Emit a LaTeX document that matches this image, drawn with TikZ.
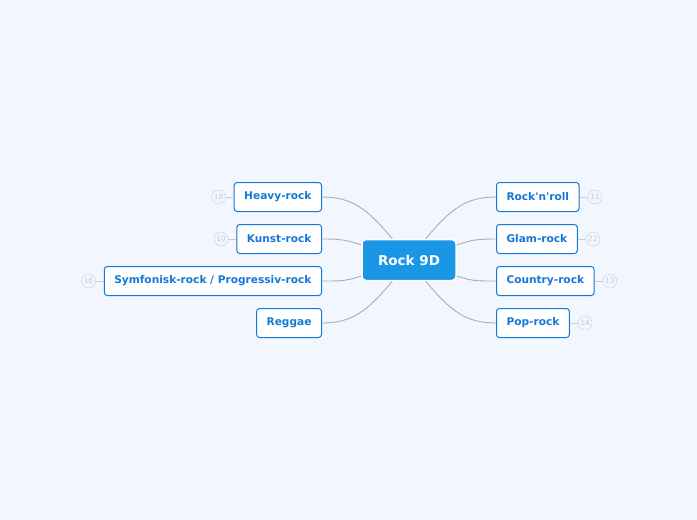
\documentclass[tikz,border=0pt]{standalone}
\usepackage{fontspec}
\setmainfont{DejaVu Sans}
\usetikzlibrary{calc,positioning}
\definecolor{bgcol}{HTML}{F2F6FE}
\definecolor{topicblue}{HTML}{1A96E6}
\definecolor{edgeblue}{HTML}{1478D8}
\definecolor{linegray}{HTML}{A8ADB8}
\definecolor{countgray}{HTML}{C8CCD4}
\tikzset{
  topic/.style={draw=edgeblue,fill=white,rounded corners=3pt,line width=1pt,
    minimum height=29pt,inner xsep=10pt,text=edgeblue,
    font=\fontsize{10.6}{12}\selectfont\bfseries},
  counter/.style={circle,draw=countgray,fill=bgcol,minimum size=14pt,inner sep=0pt,
    text=countgray,font=\fontsize{7.5}{8}\selectfont},
  link/.style={linegray,line width=0.9pt}
}
\begin{document}
\begin{tikzpicture}[x=1pt,y=-1pt]
\fill[bgcol] (0,0) rectangle (697,520);
\useasboundingbox (0,0) rectangle (697,520);
% central topic
\node[draw=white,line width=1.5pt,fill=topicblue,rounded corners=4pt,minimum width=94pt,
  minimum height=41pt,text=white,font=\fontsize{13.5}{15}\selectfont\bfseries] (root) at (409,260) {Rock 9D};
% left side
\node[topic,anchor=east] (heavy) at (322,197) {Heavy-rock};
\node[topic,anchor=east] (kunst) at (322,239) {Kunst-rock};
\node[topic,anchor=east] (symf) at (322,281) {Symfonisk-rock / Progressiv-rock};
\node[topic,anchor=east] (reggae) at (322,323) {Reggae};
% right side
\node[topic,anchor=west] (rnr) at (496,197) {Rock\textquotesingle n\textquotesingle roll};
\node[topic,anchor=west] (glam) at (496,239) {Glam-rock};
\node[topic,anchor=west] (country) at (496,281) {Country-rock};
\node[topic,anchor=west] (pop) at (496,323) {Pop-rock};
% connectors
\draw[link] ($(root.north west)+(31,0)$) .. controls +(-25,-30) and +(30,0) .. (heavy.east);
\draw[link] ($(root.west)+(0,-15)$) .. controls +(-15,-5) and +(20,0) .. (kunst.east);
\draw[link] ($(root.west)+(0,16)$) .. controls +(-15,5) and +(20,0) .. (symf.east);
\draw[link] ($(root.south west)+(31,0)$) .. controls +(-25,30) and +(30,0) .. (reggae.east);
\draw[link] ($(root.north east)+(-31,0)$) .. controls +(25,-30) and +(-30,0) .. (rnr.west);
\draw[link] ($(root.east)+(0,-15)$) .. controls +(15,-5) and +(-20,0) .. (glam.west);
\draw[link] ($(root.east)+(0,16)$) .. controls +(15,5) and +(-20,0) .. (country.west);
\draw[link] ($(root.south east)+(-31,0)$) .. controls +(25,30) and +(-30,0) .. (pop.west);
% counters
\node[counter,left=8pt of heavy] (cheavy) {18};
\node[counter,left=8pt of kunst] (ckunst) {10};
\node[counter,left=8pt of symf] (csymf) {16};
\node[counter,right=8pt of rnr] (crnr) {11};
\node[counter,right=8pt of glam] (cglam) {22};
\node[counter,right=8pt of country] (ccountry) {13};
\node[counter,right=8pt of pop] (cpop) {14};
\foreach \a/\b in {heavy/cheavy,kunst/ckunst,symf/csymf,rnr/crnr,glam/cglam,country/ccountry,pop/cpop}
  \draw[countgray,line width=0.8pt] (\a) -- (\b);
\end{tikzpicture}
\end{document}
